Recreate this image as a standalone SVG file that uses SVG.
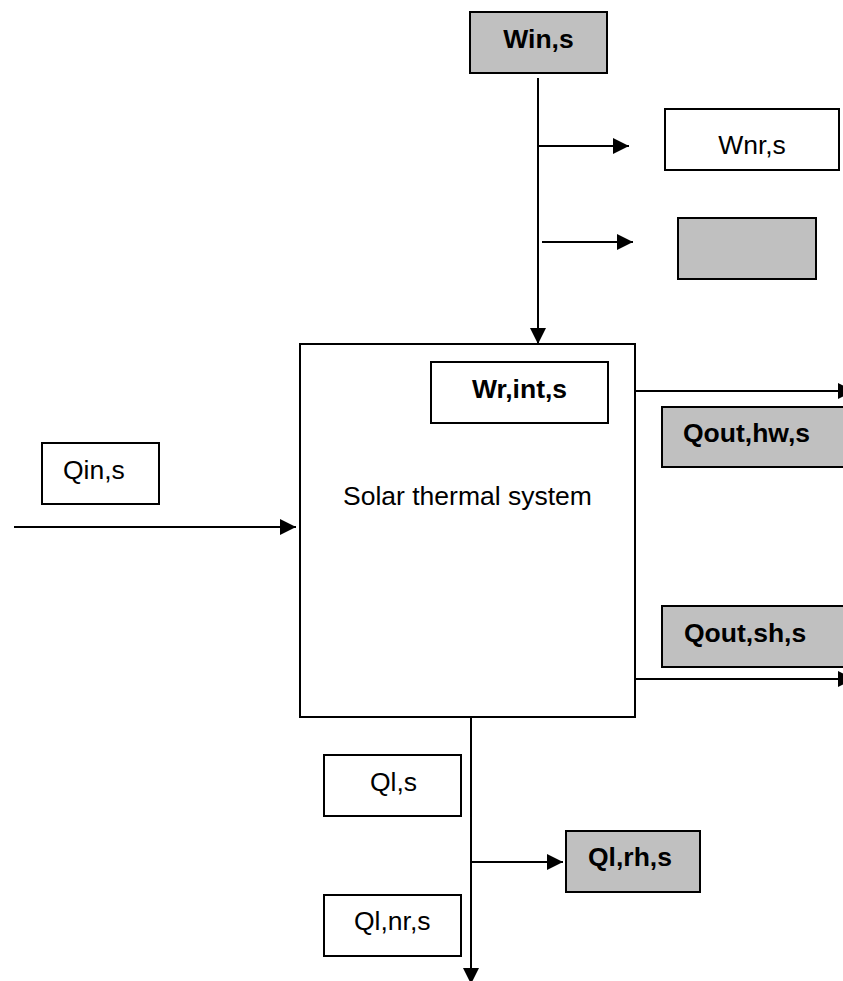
<svg xmlns="http://www.w3.org/2000/svg" width="843" height="981" viewBox="0 0 843 981">
<defs>
<style>
.box{fill:#ffffff;stroke:#000;stroke-width:2}
.gray{fill:#c0c0c0;stroke:#000;stroke-width:2}
.t{font-family:"Liberation Sans",Arial,sans-serif;font-size:26.5px;fill:#000}
.b{font-weight:bold}
.ln{stroke:#000;stroke-width:2;fill:none}
</style>
<marker id="ah" markerUnits="userSpaceOnUse" markerWidth="16" markerHeight="16" viewBox="0 0 16 16" refX="16" refY="8" orient="auto">
<path d="M0,0 L16,8 L0,16 Z" fill="#000"/>
</marker>
</defs>
<rect width="843" height="981" fill="#fff"/>
<g id="connectors">
<line class="ln" x1="538" y1="78" x2="538" y2="344" marker-end="url(#ah)"/>
<line class="ln" x1="537" y1="146" x2="629" y2="146" marker-end="url(#ah)"/>
<line class="ln" x1="542" y1="242" x2="633" y2="242" marker-end="url(#ah)"/>
<line class="ln" x1="14" y1="527" x2="296" y2="527" marker-end="url(#ah)"/>
<line class="ln" x1="635" y1="391" x2="854" y2="391" marker-end="url(#ah)"/>
<line class="ln" x1="633" y1="679" x2="854" y2="679" marker-end="url(#ah)"/>
<line class="ln" x1="471" y1="717" x2="471" y2="984" marker-end="url(#ah)"/>
<line class="ln" x1="471" y1="862" x2="563" y2="862" marker-end="url(#ah)"/>
</g>
<g id="win"><rect class="gray" x="470" y="12" width="137" height="61"/><text class="t b" x="538.5" y="48" text-anchor="middle">Win,s</text></g>
<g id="wnr"><rect class="box" x="665" y="109" width="174" height="61"/><text class="t" x="752" y="154" text-anchor="middle">Wnr,s</text></g>
<g id="graybox"><rect class="gray" x="678" y="218" width="138" height="61"/></g>
<g id="system"><rect class="box" x="300" y="344" width="335" height="373"/><text class="t" x="343" y="505">Solar thermal system</text></g>
<g id="wrint"><rect class="box" x="431" y="362" width="177" height="61"/><text class="t b" x="519.5" y="398" text-anchor="middle">Wr,int,s</text></g>
<g id="qouthw"><rect class="gray" x="662" y="407" width="200" height="60"/><text class="t b" x="683" y="442">Qout,hw,s</text></g>
<g id="qoutsh"><rect class="gray" x="662" y="606" width="200" height="61"/><text class="t b" x="684" y="642">Qout,sh,s</text></g>
<g id="qin"><rect class="box" x="42" y="443" width="117" height="61"/><text class="t" x="63" y="479">Qin,s</text></g>
<g id="qls"><rect class="box" x="324" y="755" width="137" height="61"/><text class="t" x="370" y="791">Ql,s</text></g>
<g id="qlrh"><rect class="gray" x="566" y="831" width="134" height="61"/><text class="t b" x="588" y="866">Ql,rh,s</text></g>
<g id="qlnr"><rect class="box" x="324" y="895" width="137" height="61"/><text class="t" x="354" y="930">Ql,nr,s</text></g>
</svg>
